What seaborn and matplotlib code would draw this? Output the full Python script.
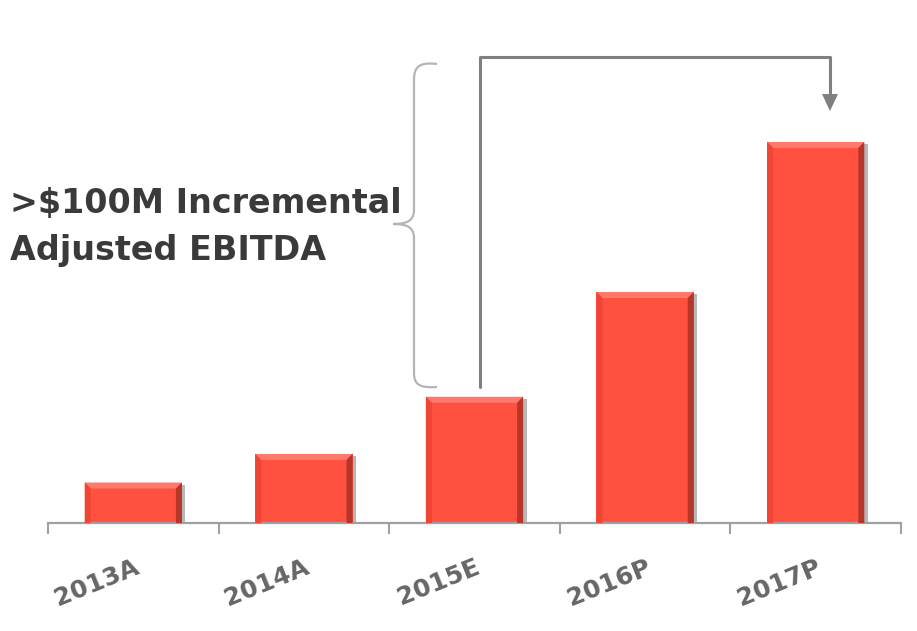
import numpy as np
import pandas as pd
import seaborn as sns
import matplotlib.pyplot as plt
from matplotlib.patches import Polygon, PathPatch
from matplotlib.path import Path
from matplotlib.lines import Line2D
import matplotlib.patheffects as pe

# adjusted EBITDA by year (approx, $M)
years = ['2013A', '2014A', '2015E', '2016P', '2017P']
ebitda = [17, 29, 53, 97, 160]
callout = ['>$100M Incremental', 'Adjusted EBITDA']

bar_color = '#FF5040'
df = pd.DataFrame({'year': years, 'ebitda': ebitda})

sns.set_style('white')
plt.rcParams['font.family'] = ['DejaVu Sans']

W, H = 917, 631
fig = plt.figure(figsize=(W / 100, H / 100), dpi=100)
ax = fig.add_axes([48 / W, 108 / H, 853 / W, 523 / H])

sns.barplot(data=df, x='year', y='ebitda', color=bar_color, saturation=1,
            width=0.57, ax=ax)
ax.set_xlim(-0.5, 4.5)
ax.set_ylim(0, 219.6)

# bevel + shadow on each bar
px_x = 853 / 5.0
px_y = 523 / 219.6
bx, by = 6 / px_x, 6 / px_y
for p in ax.patches:
    x0, y0 = p.get_x(), p.get_y()
    w, h = p.get_width(), p.get_height()
    x1, y1 = x0 + w, y0 + h
    p.set_edgecolor('none')
    p.set_path_effects([pe.SimplePatchShadow(offset=(2.5, -1.5), shadow_rgbFace='#888888', alpha=0.6),
                        pe.Normal()])
    ax.add_patch(Polygon([[x0, y1], [x1, y1], [x1 - bx, y1 - by], [x0 + bx, y1 - by]],
                         closed=True, facecolor='#FF7A6A', edgecolor='none', zorder=3))
    ax.add_patch(Polygon([[x0, y0], [x0, y1], [x0 + bx, y1 - by], [x0 + bx, y0]],
                         closed=True, facecolor='#F04535', edgecolor='none', zorder=3))
    ax.add_patch(Polygon([[x1, y0], [x1, y1], [x1 - bx, y1 - by], [x1 - bx, y0]],
                         closed=True, facecolor='#B8352A', edgecolor='none', zorder=3))

for s in ['top', 'left', 'right']:
    ax.spines[s].set_visible(False)
ax.spines['bottom'].set_color('#A0A0A0')
ax.spines['bottom'].set_linewidth(1.6)
ax.set_yticks([])
ax.set_xlabel('')
ax.set_ylabel('')
ax.set_xticks(np.arange(-0.5, 5.0, 1.0), minor=True)
ax.tick_params(axis='x', which='minor', bottom=True, length=8, width=1.5, color='#A0A0A0', direction='out')
ax.tick_params(axis='x', which='major', length=0, pad=23)
ax.set_xticks(range(len(years)))
ax.set_xticklabels(years, rotation=22, ha='right', rotation_mode='anchor',
                   fontsize=18, fontweight='bold', color='#666666')


def fpx(x, y):
    return x / W, 1 - y / H


# callout text
fig.text(*fpx(10, 213), callout[0], fontsize=24, fontweight='bold', color='#3A3A3A', va='baseline')
fig.text(*fpx(10, 260), callout[1], fontsize=24, fontweight='bold', color='#3A3A3A', va='baseline')

# curly brace
pts = [(437, 64), (420, 62), (414, 66), (414, 80),
       (414, 210),
       (414, 222), (405, 224), (393, 224),
       (405, 224), (414, 226), (414, 238),
       (414, 373),
       (414, 385), (420, 388), (437, 387)]
codes = [Path.MOVETO, Path.CURVE4, Path.CURVE4, Path.CURVE4,
         Path.LINETO,
         Path.CURVE4, Path.CURVE4, Path.CURVE4,
         Path.CURVE4, Path.CURVE4, Path.CURVE4,
         Path.LINETO,
         Path.CURVE4, Path.CURVE4, Path.CURVE4]
brace = Path([fpx(*q) for q in pts], codes)
fig.add_artist(PathPatch(brace, transform=fig.transFigure, facecolor='none',
                         edgecolor='#B5B5B5', lw=1.6))

# elbow arrow from 2015E to 2017P
xs, ys = zip(*[fpx(480, 387), fpx(480, 57), fpx(830, 57), fpx(830, 96)])
fig.add_artist(Line2D(xs, ys, transform=fig.transFigure, color='#7F7F7F', lw=2.2))
fig.add_artist(Polygon([fpx(822, 94), fpx(838, 94), fpx(830, 111)], closed=True,
                       transform=fig.transFigure, facecolor='#7F7F7F', edgecolor='none'))

fig.savefig('out.png', dpi=100)
